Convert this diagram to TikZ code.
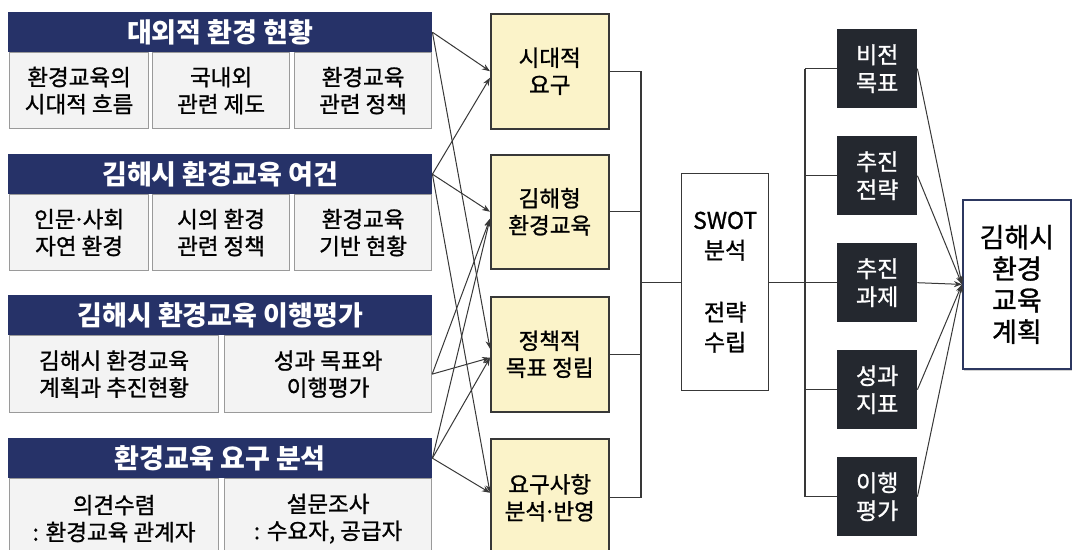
\documentclass[tikz,border=0pt]{standalone}
\usepackage{fontspec}
\setmainfont{Noto Sans CJK KR}
\newfontfamily\krmed[FakeBold=1.1]{Noto Sans CJK KR}
\usetikzlibrary{arrows.meta,shadows}
\definecolor{navy}{HTML}{263268}
\definecolor{subfill}{HTML}{F3F3F3}
\definecolor{subline}{HTML}{9A9A9A}
\definecolor{yfill}{HTML}{FBF3C9}
\definecolor{dfill}{HTML}{24282F}
\definecolor{lcol}{HTML}{383838}
\definecolor{fline}{HTML}{2C3760}
\newcommand{\mdot}{\kern-0.12em·\kern-0.12em}
\begin{document}
\begin{tikzpicture}[x=1pt,y=-1pt,
  box/.style={anchor=north west, inner sep=0pt, align=center},
  hdr/.style={box, fill=navy, text=white, minimum width=424pt, minimum height=40pt,
    font=\fontsize{27}{30}\selectfont\bfseries},
  sub/.style={box, fill=subfill, draw=subline, line width=1.2pt, minimum height=76pt,
    font=\krmed\fontsize{22.5}{27}\selectfont},
  ybox/.style={box, fill=yfill, draw=lcol, line width=1.5pt, minimum width=118pt,
    font=\krmed\fontsize{22.5}{27}\selectfont},
  dbox/.style={box, fill=dfill, text=white, minimum width=80pt, minimum height=79pt,
    font=\krmed\fontsize{23}{28}\selectfont},
  link/.style={draw=lcol, line width=1.2pt},
  arr/.style={draw=lcol, line width=1pt, -{Stealth[length=8pt,width=6pt]}}
]
\useasboundingbox (0,0) rectangle (1073,549);
\clip (0,0) rectangle (1073,549);
\fill[white] (0,0) rectangle (1073,549);

% left groups
\node[hdr] (H1) at (8,12) {대외적 환경 현황};
\node[sub, minimum width=139pt] (S11) at (9,52) {환경교육의\\시대적 흐름};
\node[sub, minimum width=137pt] (S12) at (152,52) {국내외\\관련 제도};
\node[sub, minimum width=137pt] (S13) at (294,52) {환경교육\\관련 정책};

\node[hdr] (H2) at (8,154) {김해시 환경교육 여건};
\node[sub, minimum width=139pt] (S21) at (9,194) {인문\mdot 사회\\자연 환경};
\node[sub, minimum width=137pt] (S22) at (152,194) {시의 환경\\관련 정책};
\node[sub, minimum width=137pt] (S23) at (294,194) {환경교육\\기반 현황};

\node[hdr] (H3) at (8,295) {김해시 환경교육 이행평가};
\node[sub, minimum width=209pt, minimum height=77pt] (S31) at (9,335) {김해시 환경교육\\계획과 추진현황};
\node[sub, minimum width=207pt, minimum height=77pt] (S32) at (224,335) {성과 목표와\\이행평가};

\node[hdr] (H4) at (8,438) {환경교육 요구 분석};
\node[sub, minimum width=209pt, minimum height=80pt] (S41) at (9,478) {의견수렴\\: 환경교육 관계자};
\node[sub, minimum width=207pt, minimum height=80pt] (S42) at (224,478) {설문조사\\: 수요자, 공급자};

% yellow boxes
\node[ybox, minimum height=115pt] (Y1) at (490,13) {시대적\\요구};
\node[ybox, minimum height=114pt] (Y2) at (490,154) {김해형\\환경교육};
\node[ybox, minimum height=115pt] (Y3) at (490,296) {정책적\\목표 정립};
\node[ybox, minimum height=118pt] (Y4) at (490,438) {요구사항\\분석\mdot 반영};

% arrows left -> yellow
\draw[arr] (H1.east) -- (Y1.west);
\draw[arr] (H2.east) -- ([yshift=-6.5pt]Y1.west);
\draw[arr] (H2.east) -- (Y2.west);
\draw[arr] (S32.east) -- ([yshift=-7pt]Y2.west);
\draw[arr] (H4.east) -- ([yshift=-7pt]Y2.west);
\draw[arr] (H1.east) -- ([yshift=5.5pt]Y3.west);
\draw[arr] (S32.east) -- ([yshift=-3.5pt]Y3.west);
\draw[arr] (H4.east) -- ([yshift=-3.5pt]Y3.west);
\draw[arr] (H2.east) -- ([yshift=5pt]Y4.west);
\draw[arr] (H4.east) -- ([yshift=5pt]Y4.west);

% SWOT
\node[box, fill=white, draw=lcol, line width=1.3pt, minimum width=87pt, minimum height=217pt,
  font=\krmed\fontsize{23}{30}\selectfont] (SW) at (681,173) {SWOT\\분석\\[32pt]전략\\수립};

% bracket to SWOT
\coordinate (bx) at (641,0);
\foreach \y in {Y1,Y2,Y3,Y4} {\draw[link] (\y.east) -- (\y.east -| bx);}
\draw[link] (Y1.east -| bx) -- (Y4.east -| bx);
\draw[link] (bx |- SW.west) -- (SW.west);

% dark boxes
\node[dbox] (D1) at (837,29) {비전\\목표};
\node[dbox] (D2) at (837,136) {추진\\전략};
\node[dbox] (D3) at (837,243) {추진\\과제};
\node[dbox] (D4) at (837,350) {성과\\지표};
\node[dbox] (D5) at (837,457) {이행\\평가};

\coordinate (rx) at (805,0);
\draw[link] (SW.east) -- (SW.east -| D3.west);
\draw[link] (D1.west -| rx) -- (D5.west -| rx);
\foreach \d in {D1,D2,D4,D5} {\draw[link] (\d.west -| rx) -- (\d.west);}

% final
\node[box, fill=white, draw=fline, line width=1.8pt, minimum width=108pt, minimum height=169pt,
  drop shadow={opacity=0.35, shadow xshift=1.5pt, shadow yshift=-2.5pt},
  font=\krmed\fontsize{27}{31.5}\selectfont] (F) at (962,199) {김해시\\환경\\교육\\계획};

\foreach \d in {D1,D2,D3,D4,D5} {\draw[arr] (\d.east) -- (F.west);}
\end{tikzpicture}
\end{document}
